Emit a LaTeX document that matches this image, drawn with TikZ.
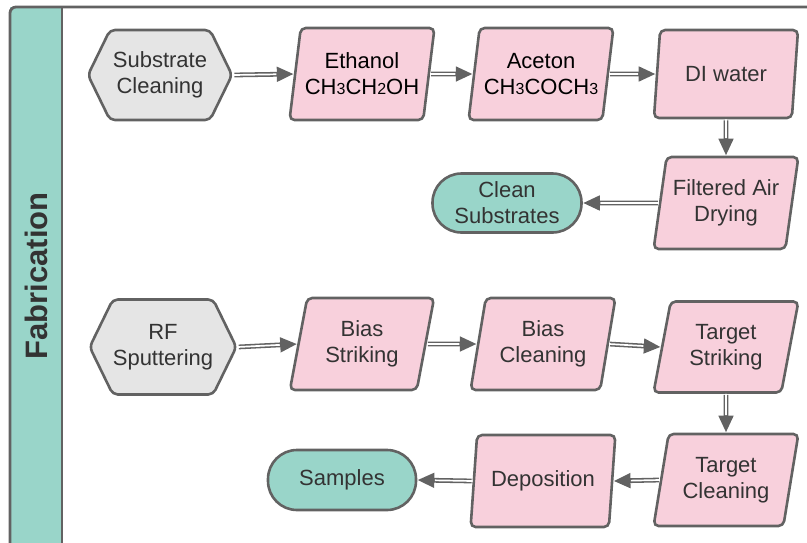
\documentclass[tikz,border=0pt]{standalone}
\usepackage{fontspec}
\setmainfont{Liberation Sans}
\usetikzlibrary{shapes.geometric,shapes.symbols,arrows.meta}
\definecolor{edge}{HTML}{626262}
\definecolor{pinkbox}{HTML}{F8D0DC}
\definecolor{tealbox}{HTML}{99D5C9}
\definecolor{greybox}{HTML}{E5E5E5}
\definecolor{ink}{HTML}{333333}
\newcommand{\sbs}[1]{{\fontsize{16}{16}\selectfont #1}}
\tikzset{
  base/.style={draw=edge, line width=2.6pt, text=ink, align=center,
    font=\fontsize{22}{26}\selectfont, inner sep=0pt},
  hexbox/.style={base, signal, signal to=east and west, signal pointer angle=128,
    fill=greybox, minimum width=144pt, minimum height=90pt, rounded corners=5pt},
  parbox/.style={base, trapezium, trapezium left angle=76, trapezium right angle=104,
    trapezium stretches=true, fill=pinkbox, minimum width=145pt, minimum height=92pt,
    rounded corners=5pt},
  endbox/.style={base, rectangle, fill=tealbox, minimum width=149pt, minimum height=59pt,
    rounded corners=29pt},
  % double-line connector: dark shaft with a thin white core
  flow/.style={draw=edge, line width=4.8pt, shorten <=1pt,
    -{Triangle[length=17pt,width=14pt]},
    postaction={draw=white, line width=1.7pt, -, shorten <=0pt, shorten >=17.5pt}},
}
\begin{document}
\begin{tikzpicture}[x=1pt,y=-1pt]
\useasboundingbox (0,0) rectangle (807,542);
\clip (0,0) rectangle (807,542);

% frame and side band
\fill[tealbox] (10,7) rectangle (62,560);
\draw[edge, line width=2.8pt, rounded corners=6pt] (10,560) -- (10,7) -- (830,7);
\draw[edge, line width=2.8pt] (62,7) -- (62,560);
\node[rotate=90, text=ink, font=\fontsize{31}{31}\selectfont\bfseries] (lane) at (36,276) {Fabrication};

% substrate cleaning flow
\node[hexbox] (sub) at (160,75) {Substrate\\Cleaning};
\node[parbox, text=black] (eth) at (362,74) {Ethanol\\CH\sbs{3}CH\sbs{2}OH};
\node[parbox, text=black] (ace) at (541,74) {Aceton\\CH\sbs{3}COCH\sbs{3}};
\node[parbox, minimum height=88pt] (diw) at (726,74) {DI water};
\node[parbox] (fad) at (726,203) {Filtered Air\\Drying};
\node[endbox] (cln) at (507,203) {Clean\\Substrates};

% sputtering flow
\node[hexbox, minimum width=145pt, minimum height=95pt] (rfs) at (163,347) {RF\\Sputtering};
\node[parbox] (bst) at (362,344) {Bias\\Striking};
\node[parbox] (bcl) at (543,344) {Bias\\Cleaning};
\node[parbox, minimum height=91pt] (tst) at (726,347) {Target\\Striking};
\node[parbox] (tcl) at (726,480) {Target\\Cleaning};
\node[parbox] (dep) at (543,481) {Deposition};
\node[endbox, minimum width=148pt, minimum height=60pt] (smp) at (342,480) {Samples};

% connectors
\draw[flow] (sub.east) -- (eth.west);
\draw[flow] (eth.east) -- (ace.west);
\draw[flow] (ace.east) -- (diw.west);
\draw[flow] (diw.south) -- (fad.north);
\draw[flow] (fad.west) -- (cln.east);
\draw[flow] (rfs.east) -- (bst.west);
\draw[flow] (bst.east) -- (bcl.west);
\draw[flow] (bcl.east) -- (tst.west);
\draw[flow] (tst.south) -- (tcl.north);
\draw[flow] (tcl.west) -- (dep.east);
\draw[flow] (dep.west) -- (smp.east);
\end{tikzpicture}
\end{document}
